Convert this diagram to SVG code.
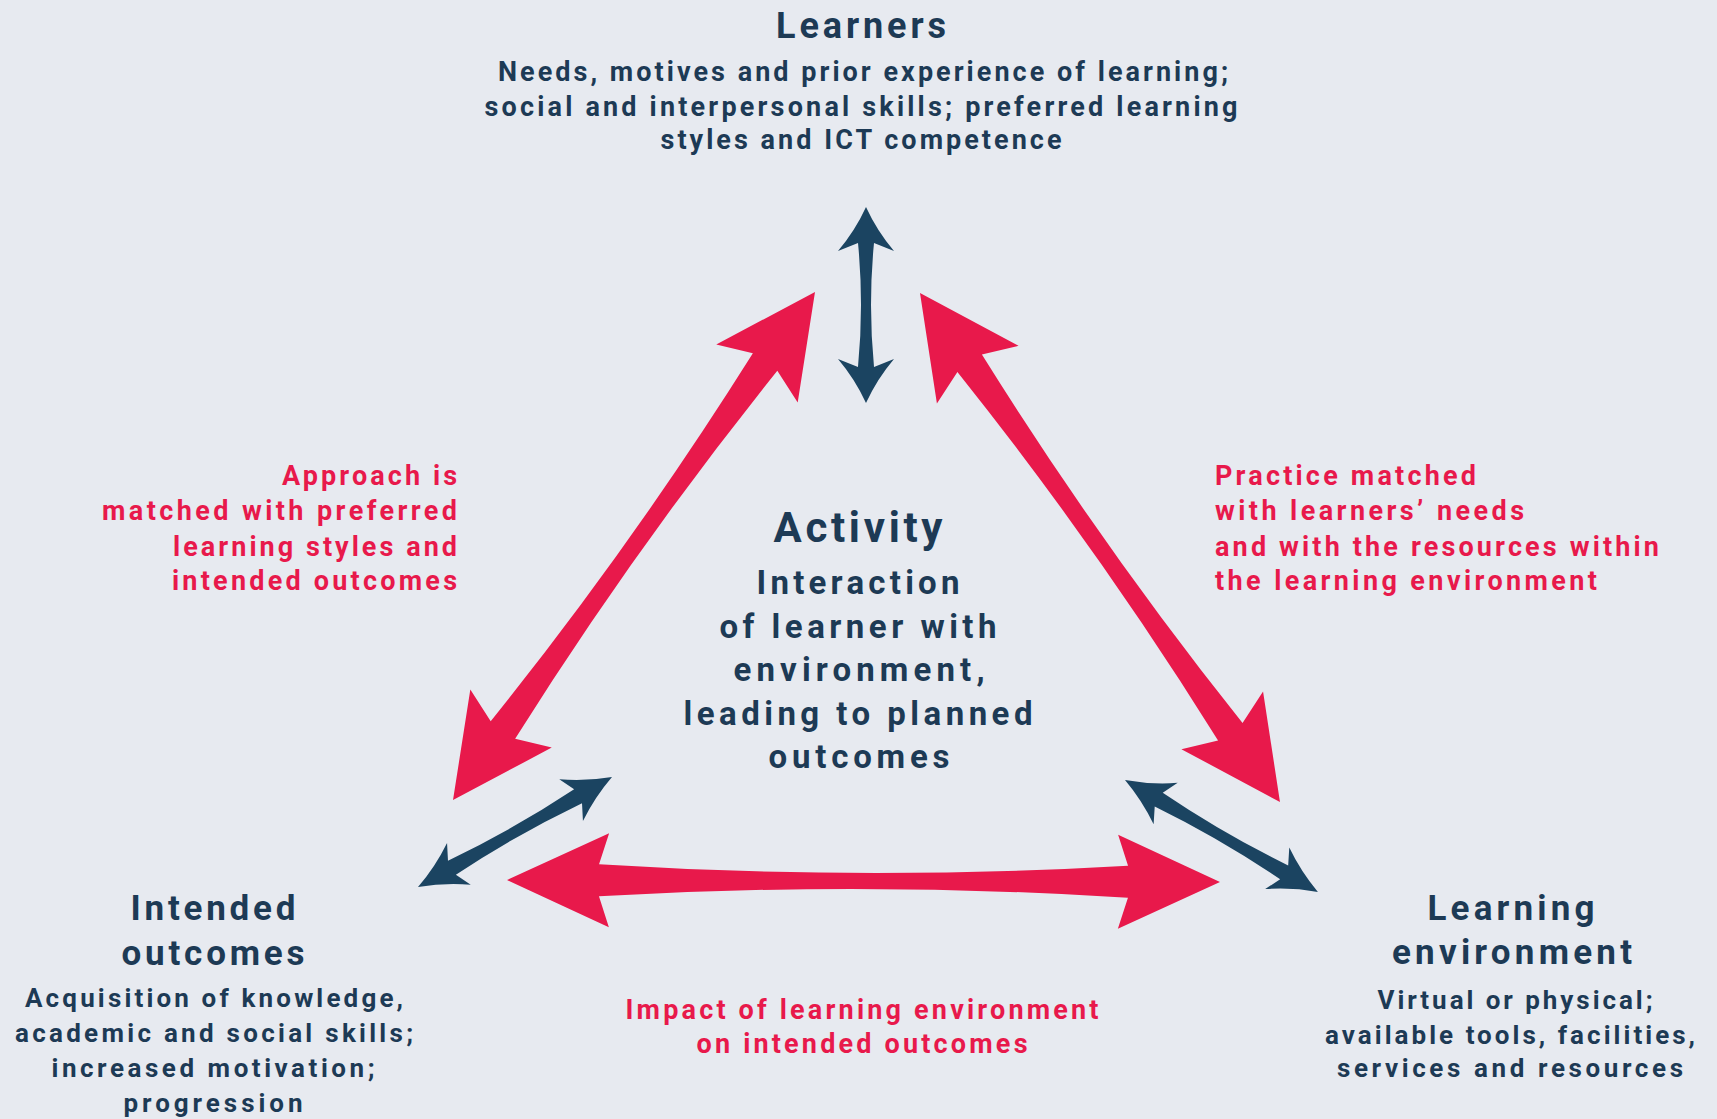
<svg xmlns="http://www.w3.org/2000/svg" width="1717" height="1119" viewBox="0 0 1717 1119">
<style>
text{font-family:Roboto,"Liberation Sans",Arial,sans-serif;font-weight:700;text-anchor:middle}
.title{font-size:36px;fill:#1d3a55}
.body{font-size:27px;fill:#1d3a55}
.act{font-size:42px;fill:#1d3a55}
.actb{font-size:33px;fill:#1d3a55}
.bt{font-size:35px;fill:#1d3a55}
.bb{font-size:26px;fill:#1d3a55}
.lab{font-size:27px;fill:#e8194b}
.red{fill:#e8194b}
.navy{fill:#1b4461}
</style>
<rect width="1717" height="1119" fill="#e7eaf0"/>

<g id="connectors">
  <path class="red" transform="translate(815,292) rotate(125.47)" d="M0,0 L100,-50 L86,-15 Q311.9,-2 537.8,-15 L523.8,-50 L623.8,0 L523.8,50 L537.8,15 Q311.9,2 86,15 L100,50 Z"/>
  <path class="red" transform="translate(920,293) rotate(54.73)" d="M0,0 L100,-50 L86,-15 Q311.7,-2 537.4,-15 L523.4,-50 L623.4,0 L523.4,50 L537.4,15 Q311.7,2 86,15 L100,50 Z"/>
  <path class="red" transform="translate(507,880) rotate(0.16)" d="M0,0 L102,-47 L92,-16 Q356.5,0 621,-16 L611,-47 L713,0 L611,47 L621,16 Q356.5,0 92,16 L102,47 Z"/>
  <path class="navy" transform="translate(866,207) rotate(90)" d="M0,0 Q24,-11 44,-28 L36,-8 Q98,-2 160,-8 L152,-28 Q172,-11 196,0 Q172,11 152,28 L160,8 Q98,2 36,8 L44,28 Q24,11 0,0 Z"/>
  <path class="navy" transform="translate(612,777) rotate(150.45)" d="M0,0 Q25,-9 47,-24 L39,-8 Q111.5,-3 184,-8 L176,-24 Q198,-9 223,0 Q198,9 176,24 L184,8 Q111.5,3 39,8 L47,24 Q25,9 0,0 Z"/>
  <path class="navy" transform="translate(1125,780) rotate(30.12)" d="M0,0 Q25,-9 47,-24 L39,-8 Q111.5,-3 184,-8 L176,-24 Q198,-9 223,0 Q198,9 176,24 L184,8 Q111.5,3 39,8 L47,24 Q25,9 0,0 Z"/>
</g>

<g id="node-learners">
  <text class="title" x="861" y="38" textLength="170">Learners</text>
  <text class="body" x="863" y="81" textLength="730">Needs, motives and prior experience of learning;</text>
  <text class="body" x="861" y="116" textLength="753">social and interpersonal skills; preferred learning</text>
  <text class="body" x="861" y="149" textLength="401">styles and ICT competence</text>
</g>

<g id="node-activity">
  <text class="act" x="858" y="542" textLength="169">Activity</text>
  <text class="actb" x="858" y="594" textLength="203">Interaction</text>
  <text class="actb" x="858" y="638" textLength="277">of learner with</text>
  <text class="actb" x="859" y="681" textLength="251">environment,</text>
  <text class="actb" x="858" y="725" textLength="349">leading to planned</text>
  <text class="actb" x="859" y="768" textLength="181">outcomes</text>
</g>

<g id="node-outcomes">
  <text class="bt" x="213" y="920" textLength="165">Intended</text>
  <text class="bt" x="213" y="965" textLength="183">outcomes</text>
  <text class="bb" x="214" y="1007" textLength="378">Acquisition of knowledge,</text>
  <text class="bb" x="214" y="1042" textLength="398">academic and social skills;</text>
  <text class="bb" x="213" y="1077" textLength="323">increased motivation;</text>
  <text class="bb" x="213" y="1112" textLength="179">progression</text>
</g>

<g id="node-environment">
  <text class="bt" x="1511" y="920" textLength="167">Learning</text>
  <text class="bt" x="1512" y="964" textLength="240">environment</text>
  <text class="bb" x="1515" y="1009" textLength="275">Virtual or physical;</text>
  <text class="bb" x="1510" y="1044" textLength="370">available tools, facilities,</text>
  <text class="bb" x="1510" y="1077" textLength="346">services and resources</text>
</g>

<g id="label-approach">
  <text class="lab" x="457" y="485" style="text-anchor:end" textLength="175">Approach is</text>
  <text class="lab" x="457" y="520" style="text-anchor:end" textLength="355">matched with preferred</text>
  <text class="lab" x="457" y="556" style="text-anchor:end" textLength="284">learning styles and</text>
  <text class="lab" x="457" y="590" style="text-anchor:end" textLength="285">intended outcomes</text>
</g>

<g id="label-practice">
  <text class="lab" x="1215" y="485" style="text-anchor:start" textLength="261">Practice matched</text>
  <text class="lab" x="1215" y="520" style="text-anchor:start" textLength="309">with learners’ needs</text>
  <text class="lab" x="1215" y="556" style="text-anchor:start" textLength="444">and with the resources within</text>
  <text class="lab" x="1215" y="590" style="text-anchor:start" textLength="382">the learning environment</text>
</g>

<g id="label-impact">
  <text class="lab" x="862" y="1019" textLength="473">Impact of learning environment</text>
  <text class="lab" x="862" y="1053" textLength="331">on intended outcomes</text>
</g>
</svg>
